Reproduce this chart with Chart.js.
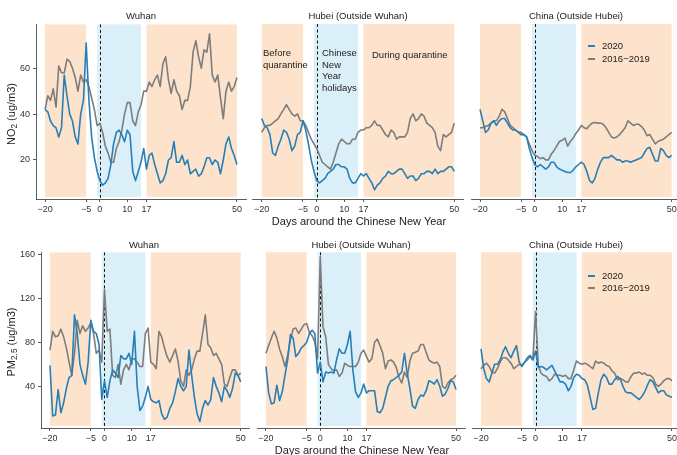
<!DOCTYPE html>
<html>
<head>
<meta charset="utf-8">
<script src="https://cdn.jsdelivr.net/npm/chart.js@4.4.1/dist/chart.umd.min.js"></script>
<style>
  html, body { margin: 0; padding: 0; background: #fff; overflow: hidden; }
  #wrap { position: relative; width: 677px; height: 455px; font-family: "Liberation Sans", Arial, sans-serif; color: #222; }
  canvas { position: absolute; }
  .t { position: absolute; white-space: nowrap; font-size: 9.5px; line-height: 12px; }
  .c { transform: translate(-50%, -50%); }
  .xt { font-size: 11px; }
  .yt { font-size: 11px; transform: translate(-50%, -50%) rotate(-90deg); }
  .sub { font-size: 75%; position: relative; top: 0.25em; }
  .note { line-height: 11.7px; }
  .key { position: absolute; width: 7px; height: 0; border-top: 2px solid; }
</style>
</head>
<body>
<div id="wrap">
  <div class="t c" style="left:141px;top:16px">Wuhan</div>
  <div class="t c" style="left:358px;top:16px">Hubei (Outside Wuhan)</div>
  <div class="t c" style="left:576px;top:16px">China (Outside Hubei)</div>
  <div class="t c" style="left:144px;top:245px">Wuhan</div>
  <div class="t c" style="left:361px;top:245px">Hubei (Outside Wuhan)</div>
  <div class="t c" style="left:576px;top:245px">China (Outside Hubei)</div>

  <div class="t c xt" style="left:359px;top:221px">Days around the Chinese New Year</div>
  <div class="t c xt" style="left:362px;top:450px">Days around the Chinese New Year</div>
  <div class="t yt" style="left:12px;top:114px">NO<span class="sub">2</span> (ug/m3)</div>
  <div class="t yt" style="left:12px;top:342px">PM<span class="sub">2.5</span> (ug/m3)</div>

  <div class="t note" style="left:263px;top:47px">Before<br>quarantine</div>
  <div class="t note" style="left:322px;top:47px">Chinese<br>New<br>Year<br>holidays</div>
  <div class="t note" style="left:372px;top:49px">During quarantine</div>

  <div class="key" style="left:588px;top:45px;border-color:rgb(38,127,184)"></div>
  <div class="t" style="left:602px;top:40px">2020</div>
  <div class="key" style="left:588px;top:58px;border-color:rgb(125,125,125)"></div>
  <div class="t" style="left:602px;top:53px">2016&#8722;2019</div>
  <div class="key" style="left:588px;top:275px;border-color:rgb(38,127,184)"></div>
  <div class="t" style="left:602px;top:270px">2020</div>
  <div class="key" style="left:588px;top:287px;border-color:rgb(125,125,125)"></div>
  <div class="t" style="left:602px;top:282px">2016&#8722;2019</div>
</div>
<script>
// Days around the Chinese New Year
const days = [-20, -19, -18, -17, -16, -15, -14, -13, -12, -11,
  -10, -9, -8, -7, -6, -5, -4, -3, -2, -1,
  0, 1, 2, 3, 4, 5, 6, 7, 8, 9,
  10, 11, 12, 13, 14, 15, 16, 17, 18, 19,
  20, 21, 22, 23, 24, 25, 26, 27, 28, 29,
  30, 31, 32, 33, 34, 35, 36, 37, 38, 39,
  40, 41, 42, 43, 44, 45, 46, 47, 48, 49,
  50];

const xTicks = [-20, -5, 0, 10, 17, 50];
const no2Ticks = [20, 40, 60];
const pmTicks = [40, 80, 120, 160];

// periods: before quarantine, CNY holidays, during quarantine
const periods = [[-20, -5], [-1, 15], [17, 50]];

// NO2 (ug/m3)
const wuhanNO2_2020 = [42, 41, 37, 35, 34, 30, 34, 57, 48, 40, 37, 30, 27, 40, 46, 71, 46, 30, 21, 15,
  11, 9, 10, 12, 18, 27, 32, 33, 31, 28, 33, 31, 15, 11, 15, 19, 25, 16, 22, 23,
  18, 14, 10, 11, 14, 20, 21, 28, 19, 19, 22, 18, 20, 14, 15, 16, 13, 14, 17, 21,
  21, 18, 20, 19, 14, 20, 27, 30, 25, 22, 18];
const wuhanNO2_base = [42, 48, 46, 51, 43, 61, 58, 58, 64, 63, 60, 56, 50, 57, 54, 55, 52, 47, 42, 35,
  36, 32, 26, 23, 19, 19, 25, 28, 33, 40, 45, 45, 37, 35, 41, 44, 50, 50, 54, 52,
  55, 57, 52, 62, 65, 55, 49, 55, 50, 48, 42, 46, 46, 52, 67, 72, 65, 60, 68, 67,
  75, 57, 54, 57, 47, 38, 50, 54, 50, 52, 56];
const hubeiNO2_2020 = [38, 35, 34, 31, 23, 22, 26, 29, 33, 32, 29, 24, 26, 31, 32, 37, 33, 27, 20, 15,
  11, 10, 11, 12, 14, 15, 16, 18, 18, 17, 17, 16, 12, 10, 10, 12, 14, 13, 14, 12,
  10, 7, 9, 10, 12, 13, 15, 14, 14, 15, 16, 16, 14, 12, 13, 13, 11, 12, 14, 14,
  15, 15, 14, 16, 14, 15, 15, 16, 17, 17, 15];
const hubeiNO2_base = [32, 34, 35, 35, 36, 37, 38, 40, 42, 44, 42, 40, 39, 40, 37, 37, 35, 32, 29, 27,
  25, 22, 19, 18, 17, 16, 19, 23, 27, 29, 28, 27, 27, 29, 29, 32, 33, 33, 34, 34,
  35, 37, 35, 35, 33, 31, 30, 33, 32, 29, 30, 30, 30, 32, 38, 40, 37, 38, 40, 39,
  36, 35, 34, 32, 26, 24, 31, 30, 31, 32, 36];
const chinaNO2_2020 = [42, 37, 32, 33, 36, 37, 35, 37, 38, 38, 36, 34, 33, 33, 32, 31, 31, 30, 25, 21,
  18, 17, 18, 17, 16, 17, 19, 19, 17, 16, 15.5, 15, 14.5, 14.5, 15.5, 17, 18, 19, 18, 15,
  11, 10, 12, 16, 19, 21, 21, 21, 22, 21, 20, 20, 19, 19.5, 19.5, 19, 19.5, 20, 20.5, 21,
  23, 25, 25.5, 22.5, 19.5, 19.5, 25, 24, 22, 21, 22];
const chinaNO2_base = [34, 34, 34.5, 35, 36, 37, 37, 39, 42, 41, 38, 35, 34, 33, 32, 32, 31, 30, 27, 24,
  22, 21.5, 20.5, 21, 20, 20, 22.5, 24, 26, 28, 28.5, 29.5, 26, 28, 29.5, 31.5, 33, 35, 34, 33.5,
  35, 36, 36.3, 36, 36, 35.5, 34, 32, 30, 29.5, 30, 31, 32.5, 34, 37, 36, 35, 35.5, 35.5, 34.5,
  33, 30.5, 31, 29, 27, 28, 28.5, 29, 30, 31, 32];

// PM2.5 (ug/m3)
const wuhanPM_2020 = [59, 13, 14, 37, 16, 25, 38, 48, 50, 105, 88, 60, 50, 42, 62, 100, 90, 88, 78, 28,
  45, 30, 45, 55, 52, 48, 68, 65, 65, 70, 60, 90, 40, 18, 22, 30, 40, 28, 26, 25,
  27, 15, 10, 12, 20, 25, 35, 47, 40, 36, 40, 73, 50, 30, 15, 8, 20, 27, 23, 28,
  48, 40, 34, 26, 40, 36, 30, 38, 52, 50, 44];
const wuhanPM_base = [73, 90, 85, 86, 92, 85, 75, 62, 50, 70, 100, 88, 95, 90, 93, 98, 88, 70, 73, 62,
  128, 90, 92, 50, 48, 60, 42, 55, 60, 55, 65, 65, 62, 58, 58, 88, 93, 62, 60, 56,
  90, 85, 75, 67, 62, 68, 74, 63, 45, 40, 55, 50, 55, 65, 72, 72, 88, 105, 78, 75,
  68, 70, 65, 60, 42, 40, 48, 55, 55, 50, 52];
const hubeiPM_2020 = [58, 34, 24, 25, 41, 27, 35, 50, 64, 87, 84, 67, 70, 75, 77, 80, 88, 91, 88, 52,
  62, 44, 53, 52, 53, 52, 64, 74, 70, 70, 78, 90, 55, 35, 30, 34, 42, 34, 36, 36,
  36, 17, 16, 20, 30, 40, 45, 46, 48, 50, 53, 70, 52, 38, 22, 20, 28, 32, 31, 36,
  45, 44, 42, 46, 40, 31, 33, 38, 45, 44, 37];
const hubeiPM_base = [70, 77, 84, 90, 84, 74, 67, 58, 68, 82, 92, 93, 88, 92, 96, 97, 89, 86, 80, 65,
  158, 94, 85, 60, 56, 54, 55, 49, 52, 61, 59, 58, 58, 58, 62, 70, 73, 67, 62, 65,
  80, 83, 77, 70, 56, 63, 64, 62, 57, 48, 43, 53, 48, 63, 70, 71, 72, 78, 78, 71,
  64, 62, 61, 62, 58, 40, 38, 43, 46, 47, 50];
const chinaPM_2020 = [74, 56, 47, 44, 52, 60, 60, 64, 71, 76, 70, 66, 72, 77, 62, 58, 62, 66, 68, 64,
  72, 57, 58, 57, 55, 57, 59, 54, 49, 44, 44, 42, 36, 40, 48, 51, 50, 47, 46, 41,
  30, 19, 20, 34, 46, 51, 48, 42, 42, 46, 49, 47, 40, 35, 34, 34, 32, 30, 28, 31,
  35, 41, 46, 44, 39, 34, 36, 36, 32, 31, 30];
const chinaPM_base = [56, 59, 61, 58, 53, 52, 56, 62, 66, 66, 64, 61, 56, 58, 60, 59, 62, 64, 67, 64,
  108, 59, 52, 50, 49, 45, 47, 51, 50, 50, 49, 50, 47, 47, 55, 63, 61, 60, 61, 60,
  58, 56, 63, 61, 62, 61, 59, 58, 54, 52, 46, 47, 46, 44, 44, 49, 52, 52, 53, 51,
  52, 50, 50, 48, 42, 40, 42, 45, 47, 47, 45];

// styling
const BLUE = 'rgb(38,127,184)';
const GREY = 'rgb(125,125,125)';
const periodColors = ['#fde3cb', '#dbeff8', '#fde3cb'];
const AXIS = '#333';
const FONT = 'Liberation Sans';

// plot area of each panel in page pixels
const panels = [
  { s: wuhanNO2_2020, b: wuhanNO2_base, left: 36, right: 246, top: 24, bottom: 199, yMin: 3, yMax: 79.1, yTicks: no2Ticks, showY: true },
  { s: hubeiNO2_2020, b: hubeiNO2_base, left: 252.6, right: 463.4, top: 24, bottom: 199, yMin: 3, yMax: 79.1, yTicks: no2Ticks, showY: false },
  { s: chinaNO2_2020, b: chinaNO2_base, left: 471, right: 680.7, top: 24, bottom: 199, yMin: 3, yMax: 79.1, yTicks: no2Ticks, showY: false },
  { s: wuhanPM_2020, b: wuhanPM_base, left: 41, right: 249.7, top: 252.3, bottom: 428, yMin: 2.1, yMax: 161.8, yTicks: pmTicks, showY: true },
  { s: hubeiPM_2020, b: hubeiPM_base, left: 257, right: 465, top: 252.3, bottom: 428, yMin: 2.1, yMax: 161.8, yTicks: pmTicks, showY: false },
  { s: chinaPM_2020, b: chinaPM_base, left: 472, right: 681, top: 252.3, bottom: 428, yMin: 2.1, yMax: 161.8, yTicks: pmTicks, showY: false }
];

const fmt = v => (v < 0 ? '\u2212' + (-v) : String(v));

// shaded periods and the dashed CNY line, under the series
const periodPlugin = {
  id: 'periods',
  beforeDatasetsDraw(chart) {
    const { ctx, chartArea: a, scales: { x } } = chart;
    ctx.save();
    periods.forEach((p, i) => {
      const x0 = x.getPixelForValue(p[0]);
      const x1 = x.getPixelForValue(p[1]);
      ctx.fillStyle = periodColors[i];
      ctx.fillRect(x0, a.top, x1 - x0, a.bottom - a.top - 2);
    });
    const x0 = Math.round(x.getPixelForValue(0)) + 0.5;
    ctx.strokeStyle = '#111';
    ctx.lineWidth = 1;
    ctx.setLineDash([3, 2.5]);
    ctx.beginPath();
    ctx.moveTo(x0, a.top);
    ctx.lineTo(x0, a.bottom);
    ctx.stroke();
    ctx.restore();
  }
};

const wrap = document.getElementById('wrap');

panels.forEach(p => {
  const yW = p.showY ? p.left : 0;
  const cLeft = p.showY ? 0 : Math.floor(p.left - 10);
  const padL = p.showY ? 0 : p.left - cLeft;
  const cTop = Math.floor(p.top - 8);
  const padT = p.top - cTop;
  const W = Math.ceil(p.right + 8 - cLeft);
  const padR = W - (p.right - cLeft);
  const H = Math.ceil(p.bottom + 18 - cTop);
  const xH = H - (p.bottom - cTop);

  const canvas = document.createElement('canvas');
  canvas.width = W;
  canvas.height = H;
  canvas.style.left = cLeft + 'px';
  canvas.style.top = cTop + 'px';
  canvas.style.width = W + 'px';
  canvas.style.height = H + 'px';
  wrap.insertBefore(canvas, wrap.firstChild);

  new Chart(canvas.getContext('2d'), {
    type: 'line',
    data: {
      datasets: [
        { label: '2020', data: days.map((d, i) => ({ x: d, y: p.s[i] })), borderColor: BLUE },
        { label: '2016-2019', data: days.map((d, i) => ({ x: d, y: p.b[i] })), borderColor: GREY }
      ]
    },
    options: {
      responsive: false,
      animation: false,
      devicePixelRatio: 1,
      layout: { padding: { left: padL, right: padR, top: padT, bottom: 0 } },
      plugins: { legend: { display: false }, tooltip: { enabled: false } },
      elements: {
        point: { radius: 0 },
        line: { borderWidth: 1.6, tension: 0, borderJoinStyle: 'round' }
      },
      scales: {
        x: {
          type: 'linear',
          min: -23.3,
          max: 53.3,
          afterBuildTicks: s => { s.ticks = xTicks.map(v => ({ value: v })); },
          afterFit: s => { s.height = xH; },
          grid: { drawOnChartArea: false, tickLength: 3, color: AXIS, lineWidth: 0.8 },
          border: { display: true, color: AXIS, width: 0.8 },
          ticks: { color: AXIS, font: { family: FONT, size: 9 }, padding: 2, maxRotation: 0, autoSkip: false, callback: fmt }
        },
        y: {
          display: p.showY,
          min: p.yMin,
          max: p.yMax,
          afterBuildTicks: s => { s.ticks = p.yTicks.map(v => ({ value: v })); },
          afterFit: s => { s.width = yW; },
          grid: { drawOnChartArea: false, tickLength: 3, color: AXIS, lineWidth: 0.8 },
          border: { display: true, color: AXIS, width: 0.8 },
          ticks: { color: AXIS, font: { family: FONT, size: 9 }, padding: 3, callback: fmt }
        }
      }
    },
    plugins: [periodPlugin]
  });
});
</script>
</body>
</html>
